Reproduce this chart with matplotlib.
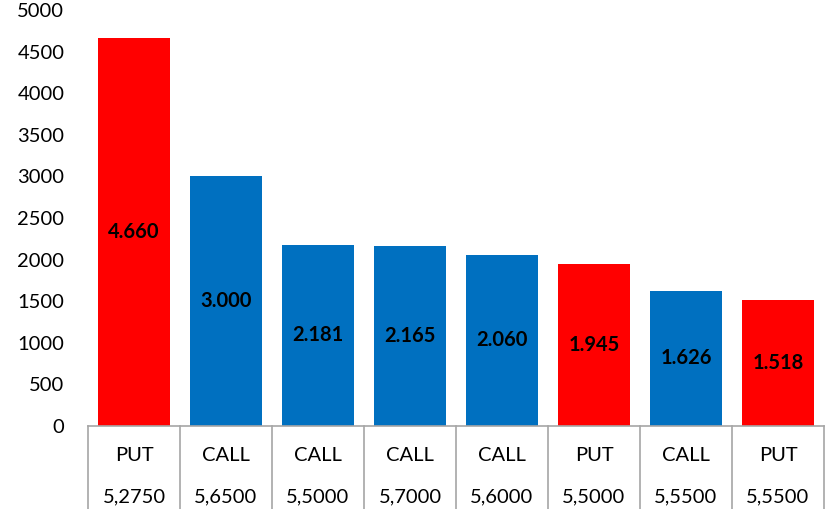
import numpy as np
import matplotlib.pyplot as plt

# data
tipos = ["PUT", "CALL", "CALL", "CALL", "CALL", "PUT", "CALL", "PUT"]
strikes = ["5,2750", "5,6500", "5,5000", "5,7000", "5,6000", "5,5000", "5,5500", "5,5500"]
valores = [4660, 3000, 2181, 2165, 2060, 1945, 1626, 1518]
etiquetas = ["4.660", "3.000", "2.181", "2.165", "2.060", "1.945", "1.626", "1.518"]

colores = {"PUT": "#FF0000", "CALL": "#0070C0"}

plt.rcParams['font.family'] = ['Lato', 'DejaVu Sans']

fig = plt.figure(figsize=(8.25, 5.09), dpi=100)
ax = fig.add_axes([88 / 825, 1 - 426 / 509, 736 / 825, 416 / 509])

x = np.arange(len(valores))
ax.bar(x, valores, width=0.78, color=[colores[t] for t in tipos])

for xi, v, lab in zip(x, valores, etiquetas):
    ax.text(xi, v / 2, lab, ha='center', va='center', fontsize=14.5,
            fontweight='bold', color='black')

ax.set_xlim(-0.5, len(valores) - 0.5)
ax.set_ylim(0, 5000)
ax.set_yticks(np.arange(0, 5001, 500))
ax.tick_params(axis='y', length=0, labelsize=14.5, pad=17)
ax.set_xticks([])

for s in ax.spines.values():
    s.set_visible(False)

# tabla de categorias bajo el eje
gris = "#a6a6a6"
ax.axhline(0, color=gris, lw=1.2, clip_on=False)
tr = ax.get_xaxis_transform()
for b in np.arange(len(valores) + 1) - 0.5:
    ax.plot([b, b], [0, -0.21], color=gris, lw=1.2, clip_on=False, transform=tr)
for xi, t, s in zip(x, tipos, strikes):
    ax.text(xi, -0.070, t, ha='center', va='center', fontsize=14.5, transform=tr)
    ax.text(xi, -0.170, s, ha='center', va='center', fontsize=14.5, transform=tr)

fig.savefig("out.png", dpi=100)
